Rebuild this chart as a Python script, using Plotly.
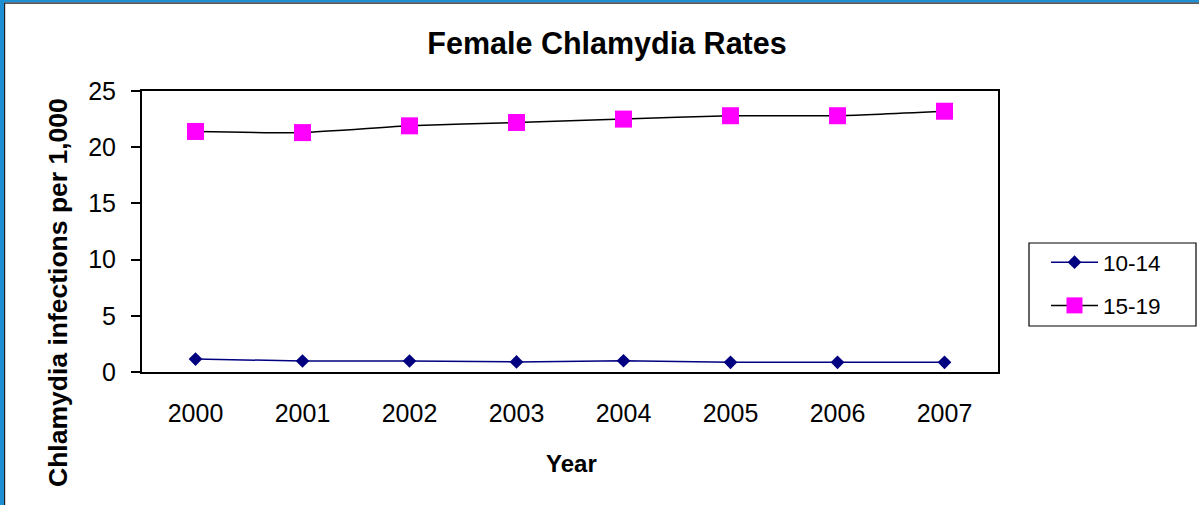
import plotly.graph_objects as go

years = ["2000", "2001", "2002", "2003", "2004", "2005", "2006", "2007"]
rates_10_14 = [1.15, 0.98, 0.98, 0.90, 1.00, 0.86, 0.86, 0.86]
rates_15_19 = [21.4, 21.3, 21.9, 22.2, 22.5, 22.8, 22.8, 23.2]
series_names = ["10-14", "15-19"]

W, H = 1199, 505
L, R, T, B = 142, 998, 91, 372  # plot area in pixels
pw, ph = R - L, B - T

def px(x):
    return (x - L) / pw

def py(y):
    return (B - y) / ph

FONT = "Liberation Sans, Arial, sans-serif"
BLUE = "#1E8FD2"

fig = go.Figure()
fig.add_trace(go.Scatter(
    x=years, y=rates_10_14, name=series_names[0], mode="lines+markers",
    line=dict(color="#000080", width=1.5),
    marker=dict(symbol="diamond", size=10.5, color="#000080"),
    legendgroup="a",
))
fig.add_trace(go.Scatter(
    x=years, y=rates_15_19, name=series_names[1], mode="lines+markers",
    line=dict(color="#000000", width=1.5, shape="spline", smoothing=0.5),
    marker=dict(symbol="square", size=17, color="#FF00FF"),
    legendgroup="b",
))

shapes = [
    # blue frame at top and left
    dict(type="rect", xref="paper", yref="paper", x0=px(0), x1=px(W), y0=py(2.5), y1=py(0),
         fillcolor=BLUE, line=dict(width=0), layer="above"),
    dict(type="rect", xref="paper", yref="paper", x0=px(0), x1=px(4), y0=py(H), y1=py(0),
         fillcolor=BLUE, line=dict(width=0), layer="above"),
    dict(type="line", xref="paper", yref="paper", x0=px(4), x1=px(W), y0=py(3.2), y1=py(3.2),
         line=dict(color="#222222", width=1.2), layer="above"),
    dict(type="line", xref="paper", yref="paper", x0=px(4.6), x1=px(4.6), y0=py(3), y1=py(H),
         line=dict(color="#222222", width=1.2), layer="above"),
    # legend frame
    dict(type="rect", xref="paper", yref="paper", x0=px(1029), x1=px(1196), y0=py(326), y1=py(243),
         fillcolor="rgba(0,0,0,0)", line=dict(color="black", width=1.2), layer="above"),
]

fig.update_layout(
    width=W, height=H,
    margin=dict(l=L, r=W - R, t=T, b=H - B),
    paper_bgcolor="white", plot_bgcolor="white",
    font=dict(family=FONT, color="black", size=25),
    title=dict(text="<b>Female Chlamydia Rates</b>", x=607 / W, xref="container", xanchor="center",
               y=1 - 43 / H, yref="container", yanchor="middle",
               font=dict(family=FONT, size=30.5, color="black")),
    showlegend=True,
    legend=dict(x=px(1046), y=py(241), xanchor="left", yanchor="top",
                borderwidth=0, bgcolor="rgba(0,0,0,0)",
                font=dict(family=FONT, size=22.5, color="black"),
                itemwidth=47,
                tracegroupgap=11, traceorder="grouped"),
    shapes=shapes,
    annotations=[
        dict(text="<b>Chlamydia infections per 1,000</b>", xref="paper", yref="paper",
             x=px(58), y=py(293), textangle=-90, showarrow=False,
             xanchor="center", yanchor="middle",
             font=dict(family=FONT, size=26.5, color="black")),
        dict(text="<b>Year</b>", xref="paper", yref="paper",
             x=px(571), y=py(463), showarrow=False,
             xanchor="center", yanchor="middle",
             font=dict(family=FONT, size=24, color="black")),
    ],
)

fig.update_xaxes(
    type="category", range=[-0.5, 7.5],
    showline=True, linecolor="black", linewidth=2, mirror=True,
    showgrid=False, zeroline=False, ticks="",
    tickfont=dict(family=FONT, size=25, color="black"),
    ticklabelstandoff=18,
)
fig.update_yaxes(
    range=[0, 25], dtick=5, tick0=0,
    showline=True, linecolor="black", linewidth=2, mirror=True,
    showgrid=False, zeroline=False,
    ticks="outside", ticklen=9, tickwidth=2, tickcolor="black",
    tickfont=dict(family=FONT, size=25, color="black"),
    ticklabelstandoff=10,
)

fig.write_html("out.html", config={"displayModeBar": False},
               post_script="document.body.style.margin='0';")
